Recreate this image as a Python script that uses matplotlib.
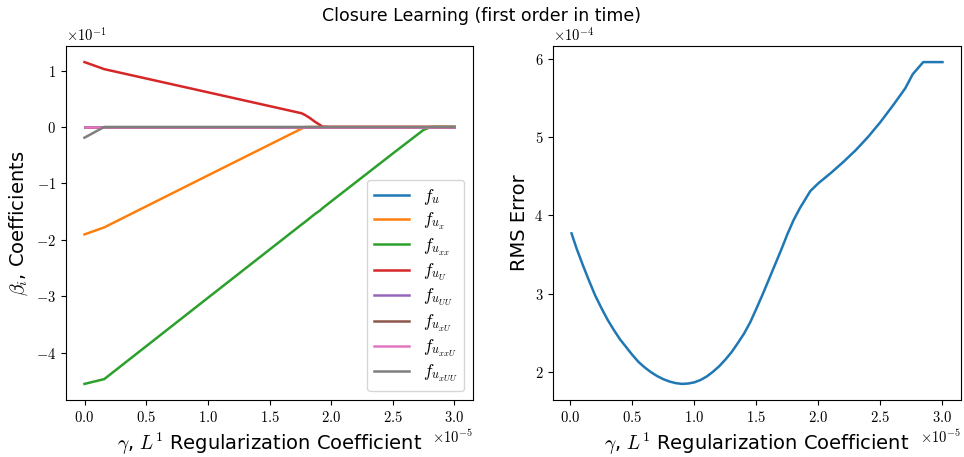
import numpy as np
import matplotlib
matplotlib.use("Agg")
import matplotlib.pyplot as plt

plt.rcParams['font.family'] = ['cmr10', 'DejaVu Sans']
plt.rcParams['mathtext.fontset'] = 'cm'
plt.rcParams['axes.formatter.use_mathtext'] = True
plt.rcParams['axes.unicode_minus'] = True

SANS = ['DejaVu Sans']

# ---- data (gamma in units of 1e-5) ----
gamma_coef = [0.0, 0.16, 1.0, 1.76, 1.79, 1.83, 1.87, 1.91, 1.93, 2.0, 2.5, 2.75, 2.81, 3.0]
# coefficients in units of 1e-1
f_u      = [0.0] * 14
f_ux     = [-1.905, -1.78, -0.86, -0.03, 0.0, 0.0, 0.0, 0.0, 0.0, 0.0, 0.0, 0.0, 0.0, 0.0]
f_uxx    = [-4.555, -4.47, -3.03, -1.73, -1.68, -1.61, -1.54, -1.48, -1.44, -1.32, -0.47, -0.05, 0.0, 0.0]
f_uU     = [1.15, 1.025, 0.615, 0.243, 0.21, 0.155, 0.09, 0.035, 0.005, 0.0, 0.0, 0.0, 0.0, 0.0]
f_uUU    = [0.0] * 14
f_uxU    = [0.0] * 14
f_uxxU   = [0.0] * 14
f_uxUU   = [-0.19, 0.0, 0.0, 0.0, 0.0, 0.0, 0.0, 0.0, 0.0, 0.0, 0.0, 0.0, 0.0, 0.0]

coef_series = [f_u, f_ux, f_uxx, f_uU, f_uUU, f_uxU, f_uxxU, f_uxUU]
coef_labels = [r'$f_u$', r'$f_{u_x}$', r'$f_{u_{xx}}$', r'$f_{u_U}$', r'$f_{u_{UU}}$',
               r'$f_{u_{xU}}$', r'$f_{u_{xxU}}$', r'$f_{u_{xUU}}$']

gamma_rms = [0.01, 0.05, 0.10, 0.15, 0.20, 0.25, 0.30, 0.35, 0.40, 0.45, 0.50, 0.55,
             0.60, 0.65, 0.70, 0.75, 0.80, 0.85, 0.90, 0.95, 1.00, 1.05, 1.10, 1.15,
             1.20, 1.25, 1.30, 1.35, 1.40, 1.45, 1.50, 1.55, 1.60, 1.65, 1.70, 1.75,
             1.80, 1.85, 1.90, 1.935, 2.0, 2.1, 2.2, 2.3, 2.4, 2.5, 2.6, 2.7, 2.76,
             2.845, 3.0]
# RMS error in units of 1e-4
rms = [3.77, 3.58, 3.37, 3.17, 2.98, 2.82, 2.67, 2.54, 2.42, 2.32, 2.22, 2.13,
       2.06, 2.00, 1.95, 1.91, 1.88, 1.86, 1.85, 1.855, 1.87, 1.90, 1.945, 2.005,
       2.075, 2.16, 2.255, 2.37, 2.49, 2.635, 2.81, 2.99, 3.18, 3.37, 3.56, 3.76,
       3.94, 4.09, 4.22, 4.31, 4.41, 4.54, 4.68, 4.83, 5.00, 5.19, 5.40, 5.62, 5.80,
       5.955, 5.955]

fig = plt.figure(figsize=(9.64, 4.57), dpi=100)
ax1 = fig.add_axes([66/964, 57/457, 407/964, 354/457])
ax2 = fig.add_axes([553/964, 57/457, 408/964, 354/457])

g1 = np.array(gamma_coef) * 1e-5
for s, lab in zip(coef_series, coef_labels):
    ax1.plot(g1, np.array(s) * 1e-1, label=lab, lw=1.8)

ax2.plot(np.array(gamma_rms) * 1e-5, np.array(rms) * 1e-4, color='C0', lw=1.8)

xlabel = r'$\gamma$, $L^1$ Regularization Coefficient'
for ax in (ax1, ax2):
    ax.ticklabel_format(style='sci', scilimits=(0, 0), axis='both', useMathText=True)
    ax.set_xlabel(xlabel, fontsize=14, family=SANS)
    ax.tick_params(labelsize=10.5)
    ax.xaxis.get_offset_text().set_fontsize(10.5)
    ax.yaxis.get_offset_text().set_fontsize(10.5)
    ax.set_xticks(np.arange(0, 3.01, 0.5) * 1e-5)

ax1.set_ylabel(r'$\beta_i$, Coefficients', fontsize=14, family=SANS)
ax2.set_ylabel('RMS Error', fontsize=14, family=SANS)
ax2.set_yticks(np.array([2, 3, 4, 5, 6]) * 1e-4)

ax1.legend(loc='lower right', fontsize=12.5, labelspacing=0.25, handlelength=2.0)

fig.suptitle('Closure Learning (first order in time)', fontsize=12.5, family=SANS, y=0.985)

fig.savefig('out.png', dpi=100)
